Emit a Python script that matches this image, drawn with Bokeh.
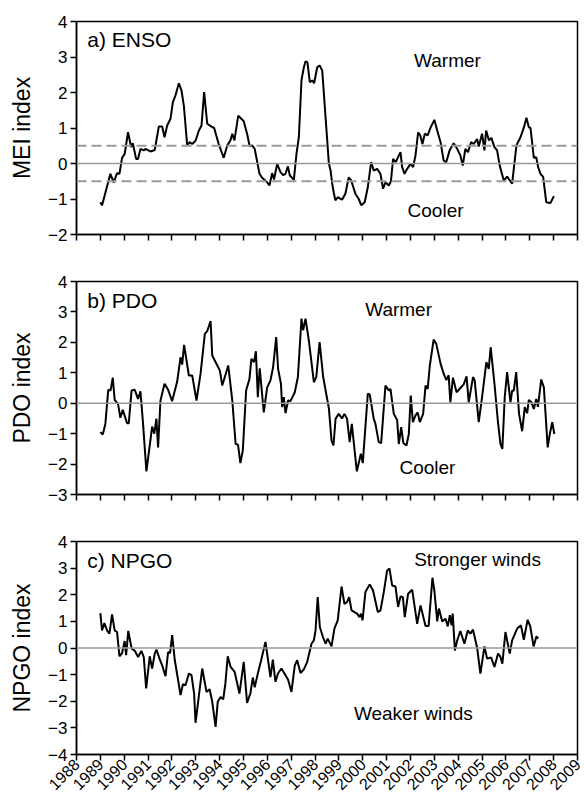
import math
from bokeh.plotting import figure
from bokeh.layouts import column
from bokeh.models import FixedTicker, Span, Label, Range1d
from bokeh.embed import file_html
from bokeh.resources import INLINE

# ---------------- data ----------------
year_ticks = list(range(1988, 2010))

enso_years = [1989.00, 1989.07, 1989.42, 1989.56, 1989.70, 1989.80, 1989.91, 1990.02, 1990.16, 1990.29,
              1990.36, 1990.50, 1990.58, 1990.68, 1990.82, 1990.89, 1991.10, 1991.28, 1991.45, 1991.59,
              1991.69, 1991.80, 1991.94, 1992.04, 1992.15, 1992.29, 1992.40, 1992.50, 1992.64, 1992.74,
              1992.85, 1992.99, 1993.13, 1993.24, 1993.35, 1993.48, 1993.66, 1993.77, 1993.96, 1994.17,
              1994.32, 1994.45, 1994.53, 1994.62, 1994.78, 1995.01, 1995.15, 1995.26, 1995.36, 1995.47,
              1995.67, 1995.78, 1995.99, 1996.09, 1996.20, 1996.28, 1996.41, 1996.55, 1996.66, 1996.76,
              1996.86, 1996.94, 1997.11, 1997.22, 1997.32, 1997.43, 1997.53, 1997.60, 1997.68, 1997.78,
              1997.88, 1997.96, 1998.09, 1998.19, 1998.30, 1998.44, 1998.58, 1998.65, 1998.72, 1998.78,
              1998.85, 1998.95, 1999.13, 1999.27, 1999.41, 1999.51, 1999.69, 1999.83, 1999.94, 2000.08,
              2000.21, 2000.35, 2000.46, 2000.60, 2000.74, 2000.85, 2000.95, 2001.09, 2001.18, 2001.27,
              2001.38, 2001.48, 2001.58, 2001.65, 2001.75, 2001.86, 2002.00, 2002.11, 2002.21, 2002.32,
              2002.41, 2002.50, 2002.60, 2002.72, 2002.84, 2003.00, 2003.12, 2003.26, 2003.39, 2003.50,
              2003.64, 2003.81, 2003.95, 2004.09, 2004.19, 2004.30, 2004.41, 2004.54, 2004.65, 2004.79,
              2004.86, 2005.00, 2005.10, 2005.17, 2005.29, 2005.39, 2005.52, 2005.63, 2005.74, 2005.91,
              2006.05, 2006.26, 2006.44, 2006.61, 2006.75, 2006.86, 2006.96, 2007.03, 2007.17, 2007.27,
              2007.35, 2007.45, 2007.56, 2007.69, 2007.87, 2008.01]
enso_values = [-1.09, -1.18, -0.29, -0.53, -0.27, -0.29, 0.16, 0.27, 0.88, 0.46,
               0.57, 0.13, 0.13, 0.41, 0.37, 0.41, 0.34, 0.38, 1.04, 1.04,
               0.74, 1.07, 1.26, 1.73, 1.92, 2.26, 2.06, 1.63, 0.51, 0.60,
               0.55, 0.64, 0.93, 1.07, 2.01, 1.12, 1.04, 1.00, 0.55, 0.16,
               0.51, 0.65, 0.84, 0.65, 1.35, 1.19, 0.84, 0.48, 0.51, 0.41,
               -0.29, -0.40, -0.53, -0.62, -0.27, -0.45, -0.01, -0.24, -0.33, -0.29,
               -0.08, -0.33, -0.46, 0.27, 0.74, 2.34, 2.71, 2.88, 2.85, 2.29,
               2.34, 2.26, 2.71, 2.76, 2.62, 1.30, -0.01, -0.20, -0.57, -0.81,
               -1.04, -0.95, -1.02, -0.85, -0.39, -0.47, -0.85, -1.00, -1.18, -1.09,
               -0.67, 0.04, -0.20, -0.15, -0.29, -0.71, -0.53, -0.62, -0.50, 0.13,
               0.04, 0.18, 0.32, -0.10, -0.29, -0.15, -0.01, -0.10, 0.23, 0.88,
               0.79, 0.55, 0.84, 0.79, 1.01, 1.23, 0.93, 0.60, 0.08, 0.04,
               0.37, 0.57, 0.42, 0.23, -0.06, 0.41, 0.32, 0.60, 0.55, 0.69,
               0.48, 0.84, 0.37, 0.93, 0.65, 0.72, 0.46, 0.37, -0.06, -0.48,
               -0.37, -0.57, 0.51, 0.74, 1.01, 1.29, 1.02, 1.00, 0.16, 0.18,
               -0.10, -0.29, -0.38, -1.09, -1.11, -0.92]
enso_thresholds = [-0.5, 0.5]

pdo_years = [1989.00, 1989.10, 1989.21, 1989.33, 1989.43, 1989.52, 1989.60, 1989.74, 1989.84, 1989.94,
             1990.12, 1990.19, 1990.31, 1990.44, 1990.58, 1990.68, 1990.78, 1990.93, 1991.06, 1991.17,
             1991.26, 1991.35, 1991.42, 1991.52, 1991.69, 1991.84, 1992.01, 1992.22, 1992.36, 1992.43,
             1992.51, 1992.71, 1992.85, 1993.03, 1993.20, 1993.38, 1993.48, 1993.62, 1993.69, 1993.94,
             1994.01, 1994.11, 1994.36, 1994.53, 1994.67, 1994.77, 1994.87, 1994.97, 1995.11, 1995.25,
             1995.33, 1995.44, 1995.52, 1995.60, 1995.68, 1995.85, 1995.99, 1996.13, 1996.24, 1996.37,
             1996.45, 1996.57, 1996.62, 1996.69, 1996.76, 1996.87, 1996.97, 1997.15, 1997.28, 1997.43,
             1997.50, 1997.60, 1997.74, 1997.95, 1998.05, 1998.19, 1998.34, 1998.58, 1998.69, 1998.77,
             1998.86, 1998.99, 1999.13, 1999.23, 1999.34, 1999.45, 1999.54, 1999.75, 1999.92, 2000.00,
             2000.21, 2000.29, 2000.46, 2000.53, 2000.67, 2000.77, 2000.95, 2001.09, 2001.16, 2001.30,
             2001.44, 2001.51, 2001.61, 2001.70, 2001.83, 2001.93, 2002.01, 2002.10, 2002.21, 2002.30,
             2002.39, 2002.53, 2002.63, 2002.72, 2002.81, 2002.97, 2003.08, 2003.26, 2003.39, 2003.50,
             2003.60, 2003.67, 2003.78, 2003.93, 2004.09, 2004.23, 2004.35, 2004.44, 2004.62, 2004.69,
             2004.86, 2005.00, 2005.18, 2005.28, 2005.36, 2005.52, 2005.66, 2005.77, 2005.85, 2005.95,
             2006.05, 2006.19, 2006.26, 2006.33, 2006.43, 2006.55, 2006.68, 2006.79, 2006.89, 2006.96,
             2007.07, 2007.17, 2007.27, 2007.34, 2007.48, 2007.59, 2007.75, 2007.84, 2007.94, 2008.03]
pdo_values = [-0.95, -1.03, -0.68, 0.44, 0.42, 0.84, 0.11, -0.02, -0.48, -0.22,
              -0.66, -0.66, 0.42, 0.44, 0.14, 0.39, -0.57, -2.24, -1.45, -0.77,
              -1.00, -0.51, -1.45, 0.09, 0.64, 0.44, 0.07, 0.71, 1.51, 1.27,
              1.92, 0.91, 0.91, 0.09, 0.97, 2.28, 2.37, 2.70, 1.57, 1.18,
              1.07, 0.58, 1.24, 0.09, -1.34, -1.36, -1.97, -1.56, 0.42, 0.80,
              1.46, 1.35, 1.71, 0.20, 1.15, -0.30, 0.51, 0.75, 1.18, 2.17,
              1.13, 0.64, -0.13, 0.20, -0.33, 0.09, 0.07, 0.36, 0.86, 2.78,
              2.40, 2.78, 2.06, 0.69, 0.86, 2.01, 0.86, -0.18, -1.23, -1.39,
              -0.51, -0.35, -0.50, -0.35, -0.51, -1.28, -0.68, -2.24, -1.66, -1.97,
              0.31, 0.29, -0.51, -0.68, -1.28, -1.31, 0.58, 0.42, 0.47, -0.35,
              -0.55, -1.34, -0.79, -1.31, -1.39, -1.01, 0.25, -0.62, -0.40, -0.30,
              -0.62, -0.35, 0.58, 0.47, 1.24, 2.09, 1.95, 1.30, 0.97, 0.76,
              0.92, 0.03, 0.84, 0.36, 0.50, 0.62, 0.88, 0.03, 0.86, 0.75,
              -0.62, 0.20, 1.35, 1.13, 1.84, 0.64, -0.57, -1.34, -1.50, 0.20,
              1.02, 0.03, 0.41, 0.41, 1.02, -0.35, -0.92, -0.13, -0.33, 0.11,
              0.03, -0.19, 0.14, -0.12, 0.78, 0.52, -1.45, -1.01, -0.62, -1.01]

npgo_years = [1989.00, 1989.07, 1989.17, 1989.28, 1989.38, 1989.49, 1989.60, 1989.70, 1989.80, 1989.91,
              1990.02, 1990.08, 1990.17, 1990.31, 1990.45, 1990.58, 1990.72, 1990.82, 1990.92, 1991.07,
              1991.17, 1991.28, 1991.35, 1991.48, 1991.59, 1991.73, 1991.84, 1991.92, 1992.01, 1992.12,
              1992.26, 1992.36, 1992.46, 1992.57, 1992.71, 1992.82, 1992.93, 1992.99, 1993.27, 1993.45,
              1993.58, 1993.69, 1993.83, 1993.92, 1994.04, 1994.15, 1994.24, 1994.34, 1994.46, 1994.63,
              1994.83, 1995.01, 1995.15, 1995.29, 1995.39, 1995.47, 1995.60, 1995.74, 1995.92, 1996.03,
              1996.13, 1996.23, 1996.34, 1996.45, 1996.59, 1996.73, 1996.87, 1997.01, 1997.15, 1997.25,
              1997.39, 1997.53, 1997.67, 1997.85, 1997.95, 1998.02, 1998.11, 1998.20, 1998.32, 1998.44,
              1998.53, 1998.69, 1998.81, 1998.95, 1999.11, 1999.23, 1999.34, 1999.43, 1999.53, 1999.65,
              1999.76, 1999.86, 1999.92, 1999.99, 2000.11, 2000.29, 2000.43, 2000.63, 2000.74, 2000.88,
              2001.02, 2001.12, 2001.23, 2001.37, 2001.48, 2001.58, 2001.68, 2001.76, 2001.90, 2002.07,
              2002.28, 2002.42, 2002.63, 2002.76, 2002.92, 2003.00, 2003.12, 2003.19, 2003.33, 2003.47,
              2003.56, 2003.65, 2003.72, 2003.77, 2003.86, 2003.96, 2004.09, 2004.26, 2004.40, 2004.51,
              2004.62, 2004.79, 2004.93, 2005.10, 2005.21, 2005.38, 2005.52, 2005.67, 2005.76, 2005.85,
              2005.98, 2006.16, 2006.26, 2006.47, 2006.63, 2006.75, 2006.91, 2007.02, 2007.16, 2007.28,
              2007.35]
npgo_values = [1.31, 0.66, 0.94, 0.66, 0.54, 1.26, 0.66, 0.60, -0.31, -0.19,
               0.26, -0.27, 0.64, -0.02, -0.11, -0.34, -0.11, -0.34, -1.52, -0.31,
               -0.77, -0.21, -0.06, -0.40, -0.65, -1.06, -0.15, -0.19, 0.48, -0.46,
               -1.21, -1.77, -1.36, -1.40, -0.96, -1.02, -1.71, -2.81, -0.77, -1.65,
               -1.55, -2.02, -2.96, -2.02, -1.84, -1.93, -1.34, -0.31, -0.71, -0.90,
               -1.71, -0.52, -2.06, -1.70, -1.11, -1.48, -0.96, -0.46, 0.23, -0.46,
               -1.09, -0.44, -1.27, -0.95, -0.77, -0.98, -1.19, -1.65, -0.65, -0.46,
               -0.94, -0.80, -0.52, 0.16, 0.29, 0.66, 1.91, 0.79, 0.44, 0.16,
               0.35, 0.06, 0.73, 1.04, 2.31, 1.66, 1.72, 1.91, 1.41, 1.35,
               1.29, 1.16, 1.29, 1.04, 2.10, 2.39, 2.16, 1.35, 1.41, 2.10,
               2.91, 2.98, 2.35, 2.31, 1.54, 1.94, 1.91, 1.16, 2.04, 2.19,
               0.91, 1.60, 0.83, 0.83, 2.64, 2.16, 1.00, 1.48, 1.00, 1.10,
               0.81, 1.23, 0.85, 1.29, -0.09, 0.29, 0.64, 0.16, 0.66, 0.54,
               0.69, 0.02, -0.96, 0.06, -0.40, -0.36, -0.71, -0.21, -0.31, -0.59,
               0.60, -0.21, 0.29, 0.73, 0.85, 0.31, 1.06, 0.81, 0.06, 0.44,
               0.35]

FONT = "Liberation Sans"


def panel(years, vals, ymin, ymax, ylabel, tag, tag_y, notes, height, border_bottom,
          show_xlabels, dashed=None):
    p = figure(width=584, height=height, x_range=Range1d(1988, 2009),
               y_range=Range1d(ymin, ymax), output_backend="svg", toolbar_location=None,
               min_border_left=76, min_border_right=7, min_border_top=21,
               min_border_bottom=border_bottom)
    p.xgrid.visible = False
    p.ygrid.visible = False
    p.outline_line_color = "black"
    p.outline_line_width = 1.5
    p.outline_line_alpha = 1.0
    p.background_fill_color = "white"
    p.border_fill_color = "white"

    # reference lines
    p.add_layout(Span(location=0, dimension="width", line_color="#9a9a9a", line_width=1.5))
    if dashed:
        for d in dashed:
            p.add_layout(Span(location=d, dimension="width", line_color="#9a9a9a",
                              line_width=1.8, line_dash="10 5"))

    p.line(years, vals, line_color="black", line_width=2)

    yt = list(range(ymin, ymax + 1))
    p.yaxis.ticker = FixedTicker(ticks=yt)
    p.yaxis.major_label_overrides = {t: str(t).replace("-", "\u2212") for t in yt}
    p.yaxis.axis_label = ylabel
    p.yaxis.axis_label_text_font = FONT
    p.yaxis.axis_label_text_font_size = "23px"
    p.yaxis.axis_label_text_font_style = "normal"
    p.yaxis.axis_label_standoff = 10
    p.yaxis.major_label_text_font = FONT
    p.yaxis.major_label_text_font_size = "17px"
    p.yaxis.major_label_standoff = 3

    p.xaxis.ticker = FixedTicker(ticks=year_ticks)
    p.xaxis.major_label_text_font = FONT
    if show_xlabels:
        p.xaxis.major_label_text_font_size = "16px"
        p.xaxis.major_label_orientation = math.pi / 4
        p.xaxis.major_label_standoff = 1
    else:
        p.xaxis.major_label_overrides = {t: "" for t in year_ticks}
        p.xaxis.major_label_text_font_size = "10px"
        p.xaxis.major_label_standoff = 0

    for ax in (p.xaxis[0], p.yaxis[0]):
        ax.axis_line_color = "black"
        ax.axis_line_width = 1.5
        ax.major_tick_line_color = "black"
        ax.major_tick_line_width = 1.5
        ax.major_tick_out = 6
        ax.major_tick_in = 0
        ax.minor_tick_line_color = None
        ax.major_label_text_color = "black"
        ax.axis_label_text_color = "black"

    p.add_layout(Label(x=1988.45, y=tag_y, text=tag, text_font=FONT, text_font_size="21px",
                       text_color="black", text_baseline="middle", text_align="left"))
    for (tx, ty, tt) in notes:
        p.add_layout(Label(x=tx, y=ty, text=tt, text_font=FONT, text_font_size="19px",
                           text_color="black", text_baseline="middle", text_align="center"))
    return p


pa = panel(enso_years, enso_values, -2, 4, "MEI index", "a) ENSO", 3.48,
           [(2003.55, 2.90, "Warmer"), (2003.05, -1.32, "Cooler")],
           260, 26, False, dashed=enso_thresholds)
pb = panel(pdo_years, pdo_values, -3, 4, "PDO index", "b) PDO", 3.38,
           [(2001.50, 3.08, "Warmer"), (2002.71, -2.12, "Cooler")],
           260, 26, False)
pc = panel(npgo_years, npgo_values, -4, 4, "NPGO index", "c) NPGO", 3.29,
           [(2004.81, 3.33, "Stronger winds"), (2002.12, -2.45, "Weaker winds")],
           280, 46, True)

layout = column(pa, pb, pc, spacing=0)

open("out.html", "w").write(file_html(layout, INLINE))
